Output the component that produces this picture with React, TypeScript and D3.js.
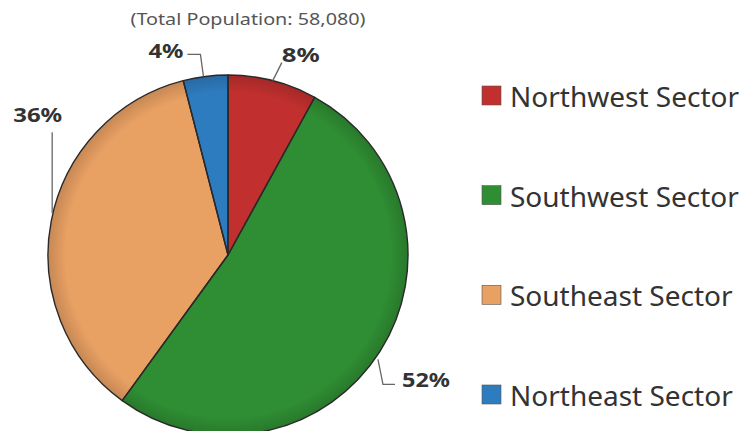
import React from "react";
import * as d3 from "d3";

const categories = ["Northwest Sector", "Southwest Sector", "Southeast Sector", "Northeast Sector"];
const values = [8, 52, 36, 4];
const colors = ["#C1302E", "#2F8E33", "#E9A063", "#2E7CC0"];
const subtitle = "(Total Population: 58,080)";

const W = 746;
const H = 431;
const cx = 228;
const cy = 255;
const R = 180;

export default function App() {
  const pie = d3.pie<number>().sort(null).value((d) => d)(values);
  const arc = d3.arc<d3.PieArcDatum<number>>().innerRadius(0).outerRadius(R);
  const total = d3.sum(values);

  const rim = (a: d3.PieArcDatum<number>, r = R) => {
    const m = (a.startAngle + a.endAngle) / 2;
    return [cx + r * Math.sin(m), cy - r * Math.cos(m)];
  };

  const labelFmt = (v: number) => `${Math.round((v / total) * 100)}%`;

  const labelSpecs = [
    { // Northwest 8%
      path: (p: number[]) => `M${p[0]},${p[1]}L${p[0] + 9},${p[1] - 18}`,
      text: (p: number[]) => ({ x: p[0] + 9, y: p[1] - 24, anchor: "start", len: 38 }),
    },
    { // Southwest 52%
      path: (p: number[]) => `M${p[0] - 2},${p[1] + 8}L${p[0] + 3},${p[1] + 33}L${p[0] + 15},${p[1] + 33}`,
      text: (p: number[]) => ({ x: p[0] + 22, y: p[1] + 30, anchor: "start", len: 48 }),
    },
    { // Southeast 36%
      path: (p: number[]) => `M${p[0] + 1},${p[1] - 8}L${p[0] + 1},${p[1] - 89}`,
      text: (p: number[]) => ({ x: p[0] + 11, y: p[1] - 104, anchor: "end", len: 49 }),
    },
    { // Northeast 4%
      path: (p: number[]) => `M${p[0] - 2},${p[1]}L${p[0] - 5},${p[1] - 22}L${p[0] - 18},${p[1] - 22}`,
      text: (p: number[]) => ({ x: p[0] - 22, y: p[1] - 24, anchor: "end", len: 35 }),
    },
  ];

  const legendY = d3.scalePoint<string>().domain(categories).range([96, 395]);

  return (
    <svg
      width={W}
      height={H}
      style={{ position: "absolute", left: 0, top: 0, background: "#fff" }}
      fontFamily="'Noto Sans', 'Open Sans', sans-serif"
    >
      <defs>
        <radialGradient id="shadeLocal" cx="50%" cy="50%" r="50%">
          <stop offset="0%" stopColor="#000" stopOpacity={0} />
          <stop offset="90%" stopColor="#000" stopOpacity={0} />
          <stop offset="100%" stopColor="#000" stopOpacity={0.15} />
        </radialGradient>
      </defs>
      <text x={248} y={21} textAnchor="middle" dominantBaseline="middle" fontSize={16} textLength={235} lengthAdjust="spacingAndGlyphs" fill="#555">
        {subtitle}
      </text>
      <g transform={`translate(${cx},${cy})`}>
        {pie.map((a, i) => (
          <path key={i} d={arc(a) || ""} fill={colors[i]} />
        ))}
        <circle r={R} fill="url(#shadeLocal)" />
        {pie.map((a, i) => (
          <path key={"o" + i} d={arc(a) || ""} fill="none" stroke="#2a2a2a" strokeWidth={1.4} strokeLinejoin="round" />
        ))}
      </g>
      {pie.map((a, i) => {
        const p = rim(a);
        const spec = labelSpecs[i];
        const t = spec.text(p);
        return (
          <g key={"l" + i}>
            <path d={spec.path(p)} fill="none" stroke="#666" strokeWidth={1.3} />
            <text
              x={t.x}
              y={t.y}
              textAnchor={t.anchor as any}
              dominantBaseline="middle"
              fontSize={19}
              fontWeight="bold"
              fill="#333"
              textLength={t.len}
              lengthAdjust="spacingAndGlyphs"
            >
              {labelFmt(a.data)}
            </text>
          </g>
        );
      })}
      {categories.map((c, i) => {
        const y = legendY(c) as number;
        return (
          <g key={c}>
            <rect x={482} y={y - 10} width={19} height={19} fill={colors[i]} stroke="#555" strokeWidth={0.6} />
            <text x={510} y={y} dominantBaseline="central" fontSize={28} fill="#333">
              {c}
            </text>
          </g>
        );
      })}
    </svg>
  );
}
